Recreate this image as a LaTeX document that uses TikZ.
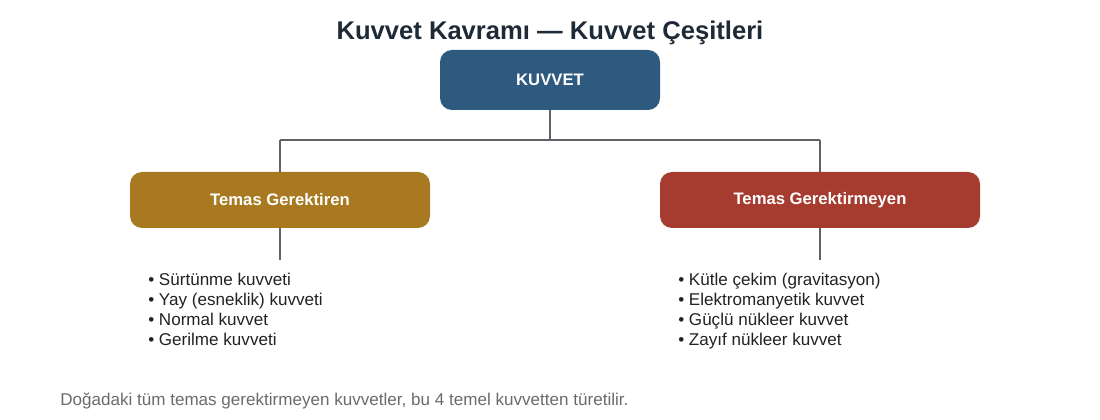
\documentclass[tikz,border=0pt]{standalone}
\usepackage{fontspec}
\setmainfont{Liberation Sans}
\definecolor{titlecol}{HTML}{1E2A36}
\definecolor{topblue}{HTML}{2E5A80}
\definecolor{gold}{HTML}{A87920}
\definecolor{brick}{HTML}{A63C2F}
\definecolor{linegray}{HTML}{5F6368}
\definecolor{listcol}{HTML}{222222}
\definecolor{footcol}{HTML}{6B6B6B}
\begin{document}
\begin{tikzpicture}[x=0.75pt,y=-0.75pt,
  box/.style={rounded corners=9pt, inner sep=0pt, text=white,
    font=\bfseries\fontsize{12.5}{15}\selectfont},
  conn/.style={draw=linegray, line width=1.5pt},
  item/.style={anchor=base west, inner sep=0pt, text=listcol,
    font=\fontsize{12.8}{15}\selectfont}]
\useasboundingbox (0,0) rectangle (1100,420);
\node[anchor=base, text=titlecol, font=\bfseries\fontsize{19.2}{23}\selectfont] (title) at (550,39.5) {Kuvvet Kavramı — Kuvvet Çeşitleri};
\node[box, fill=topblue, minimum width=165pt, minimum height=45pt] (root) at (550,80) {KUVVET};
\node[box, fill=gold, minimum width=225pt, minimum height=42pt] (left) at (280,200) {Temas Gerektiren};
\node[box, fill=brick, minimum width=240pt, minimum height=42pt] (right) at (820,200) {Temas Gerektirmeyen};
\coordinate (j) at (550,140);
\coordinate (jl) at (280,140);
\coordinate (jr) at (820,140);
\coordinate (le) at (280,260);
\coordinate (re) at (820,260);
\draw[conn] (root.south) -- (j);
\draw[conn] (jl) -- (jr);
\draw[conn] (jl) -- (left.north);
\draw[conn] (jr) -- (right.north);
\draw[conn] (left.south) -- (le);
\draw[conn] (right.south) -- (re);
\node[item] (l1) at (148,285.5) {• Sürtünme kuvveti};
\node[item] (l2) at (148,305.5) {• Yay (esneklik) kuvveti};
\node[item] (l3) at (148,325.5) {• Normal kuvvet};
\node[item] (l4) at (148,345.5) {• Gerilme kuvveti};
\node[item] (r1) at (678,285.5) {• Kütle çekim (gravitasyon)};
\node[item] (r2) at (678,305.5) {• Elektromanyetik kuvvet};
\node[item] (r3) at (678,325.5) {• Güçlü nükleer kuvvet};
\node[item] (r4) at (678,345.5) {• Zayıf nükleer kuvvet};
\node[anchor=base west, inner sep=0pt, text=footcol, font=\fontsize{12.8}{15}\selectfont] (foot) at (60,405.5) {Doğadaki tüm temas gerektirmeyen kuvvetler, bu 4 temel kuvvetten türetilir.};
\end{tikzpicture}
\end{document}
